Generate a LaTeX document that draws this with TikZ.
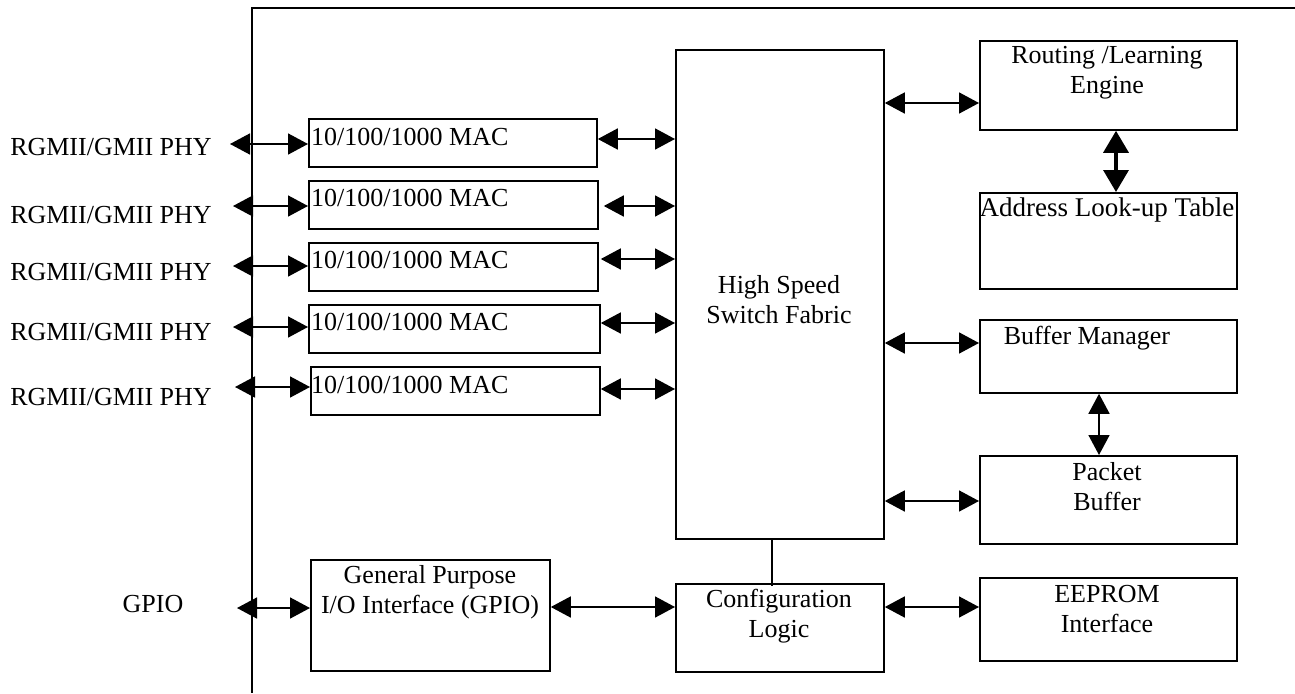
\documentclass[tikz,border=0pt]{standalone}
\usepackage{fontspec}
\setmainfont{Liberation Serif}
\usetikzlibrary{arrows.meta}
\begin{document}
\begin{tikzpicture}[x=1pt,y=-1pt,
  box/.style={draw,line width=1.8pt,rectangle,inner sep=0pt,anchor=north west},
  txt/.style={inner sep=0pt,align=center,font=\fontsize{26}{30}\selectfont},
  biarrow/.style={line width=1.6pt,{Triangle[length=20pt,width=21pt]}-{Triangle[length=20pt,width=21pt]}},
  thickarrow/.style={line width=3.5pt,{Triangle[length=22pt,width=25pt]}-{Triangle[length=22pt,width=25pt]}},
  plain/.style={line width=1.6pt}]
\useasboundingbox (0,0) rectangle (1295,693);
% frame
\coordinate (ftop) at (1295,8);
\coordinate (fcorner) at (252,8);
\coordinate (fbot) at (252,693);
\draw[plain] (ftop) -- (fcorner) -- (fbot);

% boxes
\node[box,minimum width=288pt,minimum height=48pt] (mac1) at (308,118) {};
\node[box,minimum width=289pt,minimum height=48pt] (mac2) at (308,180) {};
\node[box,minimum width=289pt,minimum height=48pt] (mac3) at (308,242) {};
\node[box,minimum width=291pt,minimum height=48pt] (mac4) at (308,304) {};
\node[box,minimum width=289pt,minimum height=48pt] (mac5) at (310,366) {};
\node[box,minimum width=208pt,minimum height=489pt] (fabric) at (675,49) {};
\node[box,minimum width=257pt,minimum height=89pt] (route) at (979,40) {};
\node[box,minimum width=257pt,minimum height=96pt] (addr) at (979,192) {};
\node[box,minimum width=257pt,minimum height=73pt] (bufm) at (979,319) {};
\node[box,minimum width=257pt,minimum height=88pt] (pkt) at (979,455) {};
\node[box,minimum width=257pt,minimum height=83pt] (eeprom) at (979,577) {};
\node[box,minimum width=208pt,minimum height=88pt] (config) at (675,583) {};
\node[box,minimum width=239pt,minimum height=111pt] (gpio) at (310,559) {};

% texts
\foreach \m/\y in {mac1/137,mac2/198,mac3/260,mac4/322,mac5/385}
  \node[txt,anchor=west] (t\m) at (311,\y) {10/100/1000 MAC};
\node[txt] (tfabric) at (779,300) {High Speed\\Switch Fabric};
\node[txt] (troute) at (1107,73) {Routing /Learning\\Engine};
\node[txt,font=\fontsize{27}{30}\selectfont] (taddr) at (1107,210) {Address Look-up Table};
\node[txt] (tbufm) at (1087,338) {Buffer Manager};
\node[txt] (tpkt) at (1107,487) {Packet\\Buffer};
\node[txt] (teeprom) at (1107,609) {EEPROM\\Interface};
\node[txt] (tconfig) at (779,616) {Configuration\\Logic};
\node[txt] (tgpio) at (430,592) {General Purpose\\I/O Interface (GPIO)};
\node[txt] (phy1) at (111,147) {RGMII/GMII PHY};
\node[txt] (phy2) at (111,215) {RGMII/GMII PHY};
\node[txt] (phy3) at (111,272) {RGMII/GMII PHY};
\node[txt] (phy4) at (111,332) {RGMII/GMII PHY};
\node[txt] (phy5) at (111,397) {RGMII/GMII PHY};
\node[txt] (lgpio) at (153,604) {GPIO};

% PHY arrows
\coordinate (p1) at (230,144);
\coordinate (p2) at (233,206);
\coordinate (p3) at (233,266);
\coordinate (p4) at (233,327);
\coordinate (p5) at (235,387);
\coordinate (pg) at (237,608);
\draw[biarrow] (p1) -- (p1 -| mac1.west);
\draw[biarrow] (p2) -- (p2 -| mac2.west);
\draw[biarrow] (p3) -- (p3 -| mac3.west);
\draw[biarrow] (p4) -- (p4 -| mac4.west);
\draw[biarrow] (p5) -- (p5 -| mac5.west);
\draw[biarrow] (pg) -- (pg -| gpio.west);

% MAC to fabric
\draw[biarrow] (mac1.east |- 0,139) -- (fabric.west |- 0,139);
\draw[biarrow] ([xshift=5pt]mac2.east |- 0,206) -- (fabric.west |- 0,206);
\draw[biarrow] ([xshift=2pt]mac3.east |- 0,259) -- (fabric.west |- 0,259);
\draw[biarrow] (mac4.east |- 0,323) -- (fabric.west |- 0,323);
\draw[biarrow] (mac5.east |- 0,389) -- (fabric.west |- 0,389);

% right side
\draw[biarrow] (fabric.east |- 0,103) -- (route.west |- 0,103);
\draw[biarrow] (fabric.east |- 0,343) -- (bufm.west |- 0,343);
\draw[biarrow] (fabric.east |- 0,501) -- (pkt.west |- 0,501);
\draw[thickarrow] (route.south -| 1116,0) -- (addr.north -| 1116,0);
\draw[biarrow] (bufm.south -| 1099,0) -- (pkt.north -| 1099,0);

% bottom
\draw[plain] (fabric.south -| 772,0) -- ([yshift=-3pt]config.north -| 772,0);
\draw[biarrow] (gpio.east |- 0,607) -- (config.west |- 0,607);
\draw[biarrow] (config.east |- 0,607) -- (eeprom.west |- 0,607);
\end{tikzpicture}
\end{document}
